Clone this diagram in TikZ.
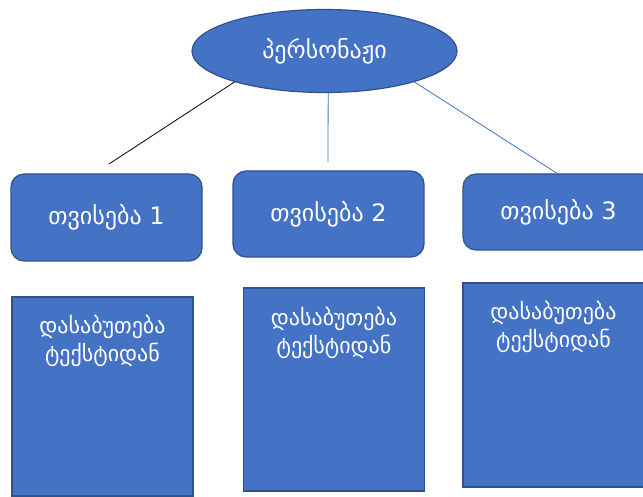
\documentclass[tikz,border=0pt]{standalone}
\usepackage{fontspec}
\setmainfont{DejaVu Sans}
\usetikzlibrary{shapes.geometric}

\definecolor{boxfill}{HTML}{4472C4}
\definecolor{boxline}{HTML}{2F528F}

\begin{document}
\begin{tikzpicture}[
    x=1pt, y=-1pt,
    base/.style={draw=boxline, fill=boxfill, text=white, line width=1.2pt, inner sep=0pt},
    root_box/.style={base, ellipse, minimum width=265pt, minimum height=83pt, font=\fontsize{24}{28}\selectfont},
    trait_box/.style={base, rectangle, rounded corners=13pt, minimum width=191pt, font=\fontsize{24}{28}\selectfont},
    proof_box/.style={base, rectangle, minimum width=181pt},
    proof_text/.style={text=white, align=center, font=\fontsize{22}{28}\selectfont},
    link/.style={line width=0.8pt}
]
\useasboundingbox (0,0) rectangle (643,497);

% Wurzel
\node[root_box] (root) at (324.5,51) {პერსონაჟი};

% Eigenschaften
\node[trait_box, minimum height=87pt] (t1) at (106.5,217.5) {თვისება 1};
\node[trait_box, minimum height=86pt] (t2) at (328.5,214) {თვისება 2};
\node[trait_box, minimum height=76pt] (t3) at (558.5,212) {თვისება 3};

% Belege
\node[proof_box, minimum height=199pt] (p1) at (102.5,396.5) {};
\node[proof_box, minimum height=203pt] (p2) at (334,389.5) {};
\node[proof_box, minimum height=204pt] (p3) at (553.5,385) {};

\node[proof_text] (p1text) at (102.5,341) {დასაბუთება\\ტექსტიდან};
\node[proof_text] (p2text) at (334,333) {დასაბუთება\\ტექსტიდან};
\node[proof_text] (p3text) at (553.5,326.5) {დასაბუთება\\ტექსტიდან};

% Linien
\coordinate (e1) at (109,164);
\coordinate (e2) at (328,162);
\draw[link, black] (root.199) -- (e1);
\draw[link, boxfill] (root.275) -- (e2);
\draw[link, boxfill] (root.341) -- (t3.92);

\end{tikzpicture}
\end{document}
